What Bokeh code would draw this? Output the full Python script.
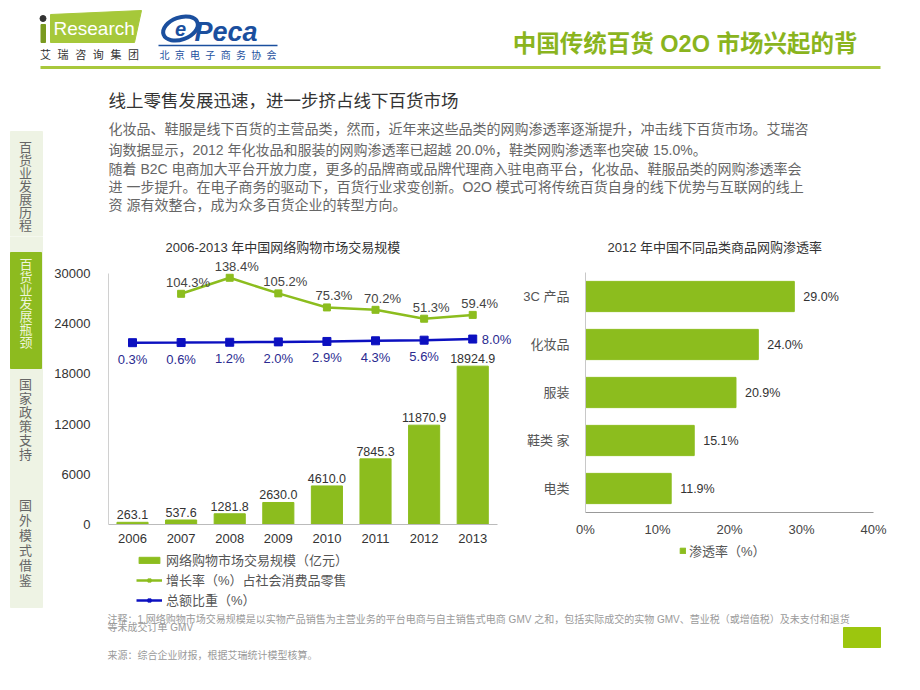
from bokeh.plotting import figure
from bokeh.layouts import column, row
from bokeh.models import (ColumnDataSource, Range1d, FactorRange, FixedTicker, LabelSet,
                          Legend, LegendItem, PrintfTickFormatter)
from bokeh.core.properties import value
from bokeh.embed import file_html
from bokeh.resources import INLINE
import numpy as np

# ---------------- data ----------------
years = ["2006", "2007", "2008", "2009", "2010", "2011", "2012", "2013"]
gmv = [263.1, 537.6, 1281.8, 2630.0, 4610.0, 7845.3, 11870.9, 18924.9]
growth_years = ["2007", "2008", "2009", "2010", "2011", "2012", "2013"]
growth = [104.3, 138.4, 105.2, 75.3, 70.2, 51.3, 59.4]
share = [0.3, 0.6, 1.2, 2.0, 2.9, 4.3, 5.6, 8.0]
gmv_ticks = [0, 6000, 12000, 18000, 24000, 30000]

categories = ["3C 产品", "化妆品", "服装", "鞋类 家", "电类"]
penetration = [29.0, 24.0, 20.9, 15.1, 11.9]
pen_ticks = [0, 10, 20, 30, 40]

left_title = "2006-2013 年中国网络购物市场交易规模"
right_title = "2012 年中国不同品类商品网购渗透率"
legend_labels = ["网络购物市场交易规模（亿元）", "增长率（%）占社会消费品零售", "总额比重（%）"]
right_legend_label = "渗透率（%）"

page_title = "中国传统百货 O2O 市场兴起的背"
section_title = "线上零售发展迅速，进一步挤占线下百货市场"
paragraph = [
    "化妆品、鞋服是线下百货的主营品类，然而，近年来这些品类的网购渗透率逐渐提升，冲击线下百货市场。艾瑞咨",
    "询数据显示，2012 年化妆品和服装的网购渗透率已超越 20.0%，鞋类网购渗透率也突破 15.0%。",
    "随着 B2C 电商加大平台开放力度，更多的品牌商或品牌代理商入驻电商平台，化妆品、鞋服品类的网购渗透率会",
    "进 一步提升。在电子商务的驱动下，百货行业求变创新。O2O 模式可将传统百货自身的线下优势与互联网的线上",
    "资 源有效整合，成为众多百货企业的转型方向。",
]
sidebar = ["百货业发展历程", "百货业发展瓶颈", "国家政策支持", "国外模式借鉴"]
note1 = "注释：1.网络购物市场交易规模是以实物产品销售为主营业务的平台电商与自主销售式电商 GMV 之和，包括实际成交的实物 GMV、营业税（或增值税）及未支付和退货"
note2 = "等未成交订单 GMV"
source_note = "来源：综合企业财报，根据艾瑞统计模型核算。"

# ---------------- styles ----------------
FONT = "Liberation Sans, Noto Sans CJK SC"
CJK = "Noto Sans CJK SC"
GREEN = "#8cbd1e"
LIGHT_GREEN = "#a8c83c"
BLUE = "#0c10c0"
SIDEBAR_BG = "#eef3e4"
NAN = [float("nan")]
SPLIT = 236  # boundary between header strip and chart row (screen px)


def canvas(x0, x1, y0, y1):
    f = figure(width=int(x1 - x0), height=int(y1 - y0),
               x_range=Range1d(x0, x1), y_range=Range1d(y1, y0),
               output_backend="svg", toolbar_location=None,
               x_axis_location=None, y_axis_location=None,
               min_border=0, outline_line_color=None, frame_align=False)
    f.grid.visible = False
    return f


def txt(f, x, y, s, size, color, align="left", style="normal", font=FONT):
    f.text(x=[x], y=[y], text=[s], text_font=value(font), text_font_size=size,
           text_color=color, text_align=align, text_baseline="middle", text_font_style=style)


def draw_sidebar(f, top, bottom):
    f.quad(left=[10], right=[42], top=[top], bottom=[bottom], color=SIDEBAR_BG)
    if top <= 252:
        f.quad(left=[10], right=[41], top=[252], bottom=[368], color="#8dbb1f")
    specs = [(sidebar[0], 146, 13, "#666666", 25), (sidebar[1], 263, 13, "#eef5dc", 25.5),
             (sidebar[2], 383, 14, "#666666", 25), (sidebar[3], 504, 15, "#666666", 25)]
    for chars, start, step, col, cx in specs:
        for i, ch in enumerate(chars):
            cy = start + step * i
            if top <= cy < bottom:
                txt(f, cx, cy, ch, "13px", col, align="center", font=CJK)


# ---------------- header (screen y 0..SPLIT) ----------------
hdr = canvas(0, 904, 0, SPLIT)
hdr.patch(x=[50, 141, 134, 50], y=[14, 10, 42, 42], color="#a6c83a")
hdr.scatter(x=[42.5], y=[18], size=6, color="#333333")
hdr.quad(left=[40.5], right=[45], top=[24], bottom=[42], color="#7a9a20")
txt(hdr, 53, 28, "Research", "19px", "white")
for cx, ch in zip(np.linspace(45, 133, 6), "艾瑞咨询集团"):
    txt(hdr, cx, 53, ch, "11px", "#333333", align="center", font=CJK)
hdr.ellipse(x=[180], y=[28], width=36, height=22, angle=0.35, fill_color=None,
            line_color="#1b4f9e", line_width=4)
txt(hdr, 180, 28, "e", "20px", "#1b4f9e", align="center", style="bold italic")
txt(hdr, 194, 31, "Peca", "27px", "#1b4f9e", style="bold italic")
hdr.segment(x0=[158], y0=[45], x1=[277], y1=[45], line_color="#1b4f9e", line_width=1.5)
for cx, ch in zip(np.linspace(164, 271, 8), "北京电子商务协会"):
    txt(hdr, cx, 54, ch, "10px", "#1b4f9e", align="center", font=CJK)
txt(hdr, 857, 43, page_title, "23.5px", "#8ab41e", align="right", style="bold")
hdr.segment(x0=[40], y0=[67], x1=[880], y1=[67], line_color=LIGHT_GREEN, line_width=3)
txt(hdr, 108, 100, section_title, "17.5px", "#333333")
for yy, line in zip([128, 149, 168, 186, 204], paragraph):
    txt(hdr, 108, yy, line, "14px", "#666666")
draw_sidebar(hdr, 131, SPLIT)

# ---------------- sidebar (screen x 0..45, y SPLIT..610) ----------------
sb = canvas(0, 45, SPLIT, 610)
draw_sidebar(sb, SPLIT, 607)

# ---------------- left chart ----------------
ltitle = canvas(45, 520, SPLIT, 255)
txt(ltitle, 165, 247, left_title, "13px", "#333333")

xi = list(range(len(years)))
gi = [years.index(y) for y in growth_years]
lp = figure(width=475, height=293, x_range=Range1d(-0.494, 7.88), y_range=Range1d(0, 32151),
            output_backend="svg", toolbar_location=None, frame_align=False,
            min_border_left=63, min_border_right=5, min_border_top=0, min_border_bottom=24,
            outline_line_color=None)
lp.extra_y_ranges = {"pct": Range1d(-386.6, 185.8)}
lp.grid.visible = False
lp.yaxis.ticker = FixedTicker(ticks=gmv_ticks)
lp.yaxis.bounds = (0, 30000)
lp.xaxis.ticker = FixedTicker(ticks=xi)
lp.xaxis.major_label_overrides = {i: y for i, y in zip(xi, years)}
lp.xaxis.bounds = (-0.5, 7.5)
for ax in (lp.xaxis[0], lp.yaxis[0]):
    ax.major_tick_line_color = None
    ax.minor_tick_line_color = None
    ax.major_label_text_font = FONT
    ax.major_label_text_font_size = "13px"
    ax.major_label_text_color = "#333333"
lp.yaxis.axis_line_color = "#d0d0d0"
lp.xaxis.axis_line_color = "#bbbbbb"
lp.yaxis.major_label_standoff = 12
lp.xaxis.major_label_standoff = 3

bsrc = ColumnDataSource(dict(x=xi, y=gmv, t=[f"{v:.1f}" for v in gmv]))
lp.vbar(x="x", top="y", width=0.64, source=bsrc, color=GREEN)
gsrc = ColumnDataSource(dict(x=gi, y=growth, t=[f"{v:.1f}%" for v in growth]))
lp.line(x="x", y="y", source=gsrc, y_range_name="pct", line_color=GREEN, line_width=2.5)
lp.scatter(x="x", y="y", source=gsrc, y_range_name="pct", marker="square", size=7, color=GREEN)
ssrc = ColumnDataSource(dict(x=xi, y=share))
lp.line(x="x", y="y", source=ssrc, y_range_name="pct", line_color=BLUE, line_width=2.5)
lp.scatter(x="x", y="y", source=ssrc, y_range_name="pct", marker="square", size=8, color=BLUE)

lp.add_layout(LabelSet(x="x", y="y", text="t", source=bsrc, text_align="center", text_baseline="bottom",
                       y_offset=3, text_font=value(FONT), text_font_size="12.5px", text_color="#333333"))
lp.add_layout(LabelSet(x="x", y="y", text="t", source=gsrc, y_range_name="pct", text_align="center",
                       text_baseline="bottom", x_offset=7, y_offset=4, text_font=value(FONT),
                       text_font_size="13px", text_color="#444444"))
s_first = ColumnDataSource(dict(x=xi[:-1], y=share[:-1], t=[f"{v:.1f}%" for v in share[:-1]]))
s_last = ColumnDataSource(dict(x=xi[-1:], y=share[-1:], t=[f"{v:.1f}%" for v in share[-1:]]))
lp.add_layout(LabelSet(x="x", y="y", text="t", source=s_first, y_range_name="pct", text_align="center",
                       text_baseline="top", y_offset=-9, text_font=value(FONT),
                       text_font_size="13px", text_color="#2a2a90"))
lp.add_layout(LabelSet(x="x", y="y", text="t", source=s_last, y_range_name="pct", text_align="left",
                       text_baseline="middle", x_offset=9, text_font=value(FONT),
                       text_font_size="13px", text_color="#2a2a90"))

# legend strip for the left chart (screen x 45..520, y 548..610)
lleg = canvas(45, 520, 548, 610)
kb = lleg.vbar(x=NAN, top=NAN, width=1, color=GREEN)
kg1 = lleg.line(x=NAN, y=NAN, line_color=GREEN, line_width=2.5)
kg2 = lleg.scatter(x=NAN, y=NAN, marker="square", size=7, color=GREEN)
ks1 = lleg.line(x=NAN, y=NAN, line_color=BLUE, line_width=2.5)
ks2 = lleg.scatter(x=NAN, y=NAN, marker="square", size=8, color=BLUE)
leg = Legend(items=[LegendItem(label=legend_labels[0], renderers=[kb]),
                    LegendItem(label=legend_labels[1], renderers=[kg1, kg2]),
                    LegendItem(label=legend_labels[2], renderers=[ks1, ks2])],
             location=(91, 1), orientation="vertical", glyph_width=26, glyph_height=8,
             label_height=13, spacing=1, label_standoff=4, padding=0, margin=0,
             border_line_color=None, background_fill_alpha=0,
             label_text_font=FONT, label_text_font_size="13px", label_text_color="#555555")
lleg.add_layout(leg)

# ---------------- right chart ----------------
rtitle = canvas(520, 904, SPLIT, 262)
txt(rtitle, 607, 247, right_title, "13px", "#333333")

rp = figure(width=384, height=277, y_range=FactorRange(factors=list(reversed(categories))),
            x_range=Range1d(0, 40), output_backend="svg", toolbar_location=None, frame_align=False,
            min_border_left=63, min_border_right=31, min_border_top=10, min_border_bottom=22,
            outline_line_color=None)
rp.grid.visible = False
rp.xaxis.ticker = FixedTicker(ticks=pen_ticks)
rp.xaxis.formatter = PrintfTickFormatter(format="%d%%")
for ax in (rp.xaxis[0], rp.yaxis[0]):
    ax.major_tick_line_color = None
    ax.minor_tick_line_color = None
    ax.major_label_text_font = FONT
    ax.major_label_text_font_size = "13px"
rp.yaxis.major_label_text_color = "#555555"
rp.xaxis.major_label_text_color = "#444444"
rp.yaxis.axis_line_color = "#c8c8c8"
rp.xaxis.axis_line_color = "#999999"
rp.yaxis.major_label_standoff = 10
rp.xaxis.major_label_standoff = 3

psrc = ColumnDataSource(dict(y=categories, x=penetration, t=[f"{v:.1f}%" for v in penetration]))
rp.hbar(y="y", right="x", left=0, height=0.63, source=psrc, color=GREEN)
rp.add_layout(LabelSet(x="x", y="y", text="t", source=psrc, text_align="left", text_baseline="middle",
                       x_offset=9, text_font=value(FONT), text_font_size="12.5px", text_color="#333333"))

# legend strip for the right chart (screen x 520..904, y 539..610)
rleg_fig = canvas(520, 904, 539, 610)
kr = rleg_fig.hbar(y=NAN, right=NAN, height=1, color=GREEN)
rleg = Legend(items=[LegendItem(label=right_legend_label, renderers=[kr])],
              location=(159, 50), glyph_width=7, glyph_height=7, label_height=14,
              label_standoff=3, padding=0, margin=0, border_line_color=None, background_fill_alpha=0,
              label_text_font=FONT, label_text_font_size="13px", label_text_color="#555555")
rleg_fig.add_layout(rleg)

# ---------------- footer (screen y 610..686) ----------------
ft = canvas(0, 904, 610, 686)
txt(ft, 107, 619, note1, "10px", "#9a9a9a")
txt(ft, 107, 627, note2, "10px", "#9a9a9a")
txt(ft, 107, 655, source_note, "10px", "#9a9a9a")
ft.quad(left=[843], right=[880], top=[627], bottom=[647], color="#9cc60e")

layout = column(hdr, row(sb, column(ltitle, lp, lleg), column(rtitle, rp, rleg_fig)), ft)
open("out.html", "w").write(file_html(layout, INLINE))
